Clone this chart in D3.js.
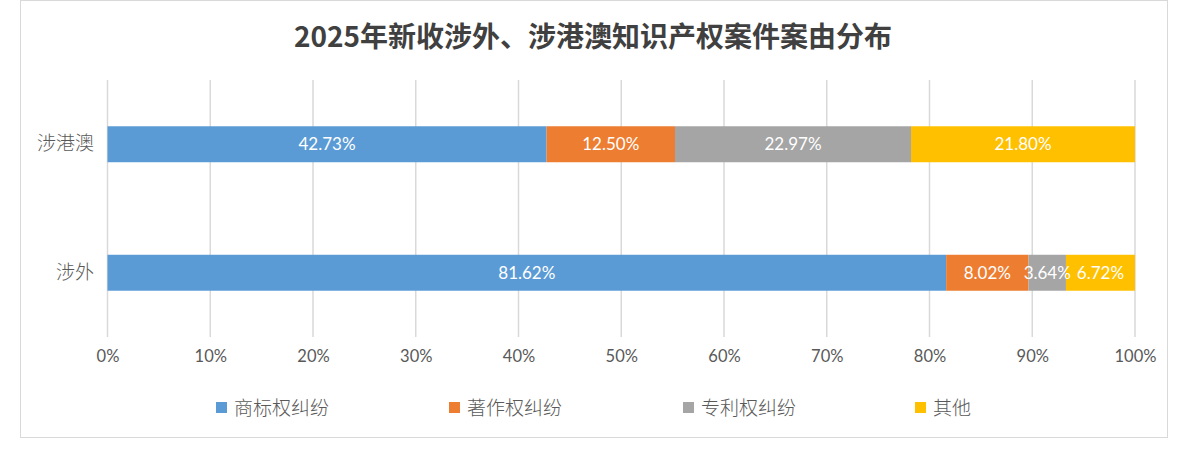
<!doctype html>
<html>
<head>
<meta charset="utf-8">
<title>案由分布</title>
<script src="https://cdn.jsdelivr.net/npm/d3@7"></script>
<style>
  body { margin: 0; background: #fff; }
  .tick text { fill: #595959; }
</style>
</head>
<body>
<svg width="1189" height="453"></svg>
<script>
var categories = ["涉港澳", "涉外"];
var seriesNames = ["商标权纠纷", "著作权纠纷", "专利权纠纷", "其他"];
var seriesColors = ["#5b9bd5", "#ed7d31", "#a5a5a5", "#ffc000"];
var values = {
  "涉港澳": [42.73, 12.50, 22.97, 21.80],
  "涉外":   [81.62, 8.02, 3.64, 6.72]
};
var tickValues = [0, 10, 20, 30, 40, 50, 60, 70, 80, 90, 100];
var title = "2025年新收涉外、涉港澳知识产权案件案由分布";

var svg = d3.select("svg");
var numFont = "Lato, 'Open Sans', sans-serif";
var cjkFont = "'Noto Sans CJK SC', sans-serif";

// outer frame
svg.append("rect")
  .attr("x", 20.5).attr("y", 0.5)
  .attr("width", 1147).attr("height", 437)
  .attr("fill", "#fff").attr("stroke", "#d9d9d9");

svg.append("text")
  .attr("x", 593).attr("y", 47)
  .attr("text-anchor", "middle")
  .attr("font-family", cjkFont)
  .attr("font-weight", "bold")
  .attr("font-size", 28)
  .attr("fill", "#404040")
  .text(title);

var x = d3.scaleLinear().domain([0, 100]).range([107.5, 1135]);
var y = d3.scaleBand().domain(categories).range([80, 337]).paddingInner(0.72).paddingOuter(0.36);

// gridlines
svg.append("g").selectAll("line")
  .data(tickValues)
  .join("line")
  .attr("x1", function(d) { return x(d); })
  .attr("x2", function(d) { return x(d); })
  .attr("y1", 80).attr("y2", 337)
  .attr("stroke", "#d9d9d9").attr("stroke-width", 1.5);

// x axis labels
var xAxis = svg.append("g")
  .attr("transform", "translate(0,337)")
  .call(d3.axisBottom(x).tickValues(tickValues).tickSize(0).tickPadding(13).tickFormat(function(d) { return d + "%"; }));
xAxis.select(".domain").remove();
xAxis.selectAll("text").attr("font-family", numFont).attr("font-size", 16.5).attr("fill", "#595959");

// y axis labels
var yAxis = svg.append("g")
  .attr("transform", "translate(107,0)")
  .call(d3.axisLeft(y).tickSize(0).tickPadding(13));
yAxis.select(".domain").remove();
yAxis.selectAll("text").attr("font-family", cjkFont).attr("font-size", 19).attr("fill", "#595959").attr("font-weight", 300);

// stacked bars
var rows = categories.map(function(c) {
  var acc = 0;
  return values[c].map(function(v, i) {
    var seg = { cat: c, i: i, v: v, x0: acc, x1: acc + v };
    acc += v;
    return seg;
  });
});
var segs = [].concat.apply([], rows);

svg.append("g").selectAll("rect")
  .data(segs)
  .join("rect")
  .attr("x", function(d) { return x(d.x0); })
  .attr("width", function(d) { return x(d.x1) - x(d.x0); })
  .attr("y", function(d) { return y(d.cat); })
  .attr("height", y.bandwidth())
  .attr("fill", function(d) { return seriesColors[d.i]; });

svg.append("g").selectAll("text")
  .data(segs)
  .join("text")
  .attr("x", function(d) { return (x(d.x0) + x(d.x1)) / 2; })
  .attr("y", function(d) { return y(d.cat) + y.bandwidth() / 2; })
  .attr("dy", "0.35em")
  .attr("text-anchor", "middle")
  .attr("font-family", numFont)
  .attr("font-size", 17)
  .attr("fill", "#fff")
  .text(function(d) { return d.v.toFixed(2) + "%"; });

// legend
var legendX = [216, 449, 683, 915];
var legend = svg.append("g").selectAll("g")
  .data(seriesNames)
  .join("g")
  .attr("transform", function(d, i) { return "translate(" + legendX[i] + ",408)"; });
legend.append("rect")
  .attr("x", 0).attr("y", -6).attr("width", 11).attr("height", 11)
  .attr("fill", function(d, i) { return seriesColors[i]; });
legend.append("text")
  .attr("x", 18).attr("dy", "0.35em")
  .attr("font-family", cjkFont).attr("font-size", 19).attr("font-weight", 300)
  .attr("fill", "#595959")
  .text(function(d) { return d; });
</script>
</body>
</html>
